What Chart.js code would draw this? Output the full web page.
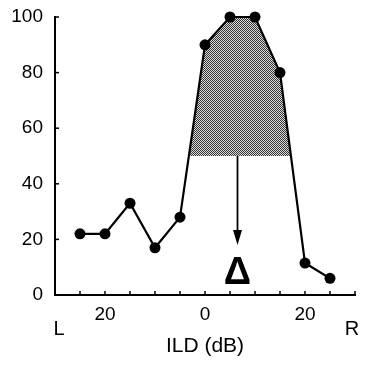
<!DOCTYPE html>
<html>
<head>
<meta charset="utf-8">
<script src="https://cdn.jsdelivr.net/npm/chart.js@4/dist/chart.umd.min.js"></script>
<style>
  html, body { margin: 0; padding: 0; background: #fff; }
  canvas { display: block; }
</style>
</head>
<body>
<canvas id="chart" width="372" height="367"></canvas>
<script>
// ILD values (dB, negative = left ear), response in %
const ild = [-25, -20, -15, -10, -5, 0, 5, 10, 15, 20, 25];
const response = [22, 22, 33, 17, 28, 90, 100, 100, 80, 11.5, 6];
const xLabels = { '-20': '20', '0': '0', '20': '20' };
const yTicks = [0, 20, 40, 60, 80, 100];
const halfMax = 50;
const arrowAt = 6.5;   // dB, centre of the shaded area
const arrowEnd = 18;   // % where the arrow tip sits

// stippled grey like the printed figure
function makePattern() {
    const c = document.createElement('canvas');
    c.width = 2; c.height = 2;
    const g = c.getContext('2d');
    g.fillStyle = '#dcdcdc';
    g.fillRect(0, 0, 2, 2);
    g.fillStyle = '#333';
    g.fillRect(0, 0, 1, 1);
    g.fillRect(1, 1, 1, 1);
    return g.createPattern(c, 'repeat');
}

Chart.defaults.font.family = '"Liberation Sans", Arial, sans-serif';
Chart.defaults.color = '#000';

const extras = {
    id: 'extras',
    afterDraw(chart) {
        const ctx = chart.ctx;
        const xs = chart.scales.x, ys = chart.scales.y;
        const area = chart.chartArea;
        ctx.save();
        ctx.strokeStyle = '#000';
        ctx.lineWidth = 1.5;
        // inward ticks on x axis every 5 dB
        xs.ticks.forEach(t => {
            const px = xs.getPixelForValue(t.value);
            if (t.value === xs.min) return;
            ctx.beginPath();
            ctx.moveTo(px, area.bottom);
            ctx.lineTo(px, area.bottom - 4);
            ctx.stroke();
        });
        // ticks on y axis
        ys.ticks.forEach(t => {
            const py = ys.getPixelForValue(t.value);
            ctx.beginPath();
            ctx.moveTo(area.left, py);
            ctx.lineTo(area.left + 4, py);
            ctx.stroke();
        });
        // arrow from half-max level down to the marker
        const ax = xs.getPixelForValue(arrowAt);
        const y0 = ys.getPixelForValue(halfMax);
        const y1 = ys.getPixelForValue(arrowEnd);
        ctx.lineWidth = 1.8;
        ctx.beginPath();
        ctx.moveTo(ax, y0);
        ctx.lineTo(ax, y1 - 12);
        ctx.stroke();
        ctx.fillStyle = '#000';
        ctx.beginPath();
        ctx.moveTo(ax - 4.5, y1 - 15);
        ctx.lineTo(ax + 4.5, y1 - 15);
        ctx.lineTo(ax, y1);
        ctx.closePath();
        ctx.fill();
        // delta marker
        ctx.font = 'bold 38px "Liberation Sans", Arial, sans-serif';
        ctx.textAlign = 'center';
        ctx.textBaseline = 'alphabetic';
        ctx.fillText('\u0394', ax, y1 + 39);
        // L / R side labels
        ctx.font = '20px "Liberation Sans", Arial, sans-serif';
        ctx.textBaseline = 'middle';
        ctx.fillText('L', area.left + 4, area.bottom + 34);
        ctx.fillText('R', area.right - 3, area.bottom + 34);
        ctx.restore();
    }
};

new Chart(document.getElementById('chart'), {
    type: 'scatter',
    data: {
        datasets: [{
            data: ild.map((x, i) => ({ x: x, y: response[i] })),
            showLine: true,
            borderColor: '#000',
            borderWidth: 2.2,
            pointRadius: 5.5,
            pointBackgroundColor: '#000',
            pointBorderWidth: 0,
            clip: false,
            fill: { target: { value: halfMax }, above: makePattern(), below: 'rgba(0,0,0,0)' }
        }]
    },
    options: {
        responsive: false,
        animation: false,
        layout: { padding: { left: 0, right: 17, top: 17, bottom: 0 } },
        plugins: { legend: { display: false }, tooltip: { enabled: false } },
        scales: {
            x: {
                type: 'linear',
                min: -30, max: 30,
                grid: { display: false },
                border: { display: true, color: '#000', width: 2 },
                ticks: {
                    stepSize: 5,
                    padding: 0,
                    maxRotation: 0,
                    autoSkip: false,
                    font: { size: 19 },
                    callback: v => xLabels[String(v)] || ''
                },
                title: {
                    display: true,
                    text: 'ILD (dB)',
                    font: { size: 21 },
                    padding: { top: 0, bottom: 8 }
                },
                afterFit: s => { s.height = 72; }
            },
            y: {
                min: 0, max: 100,
                grid: { display: false },
                border: { display: true, color: '#000', width: 2 },
                afterBuildTicks: s => { s.ticks = yTicks.map(v => ({ value: v })); },
                ticks: { padding: 4, font: { size: 19 } },
                afterFit: s => { s.width = 55; }
            }
        }
    },
    plugins: [extras]
});
</script>
</body>
</html>
